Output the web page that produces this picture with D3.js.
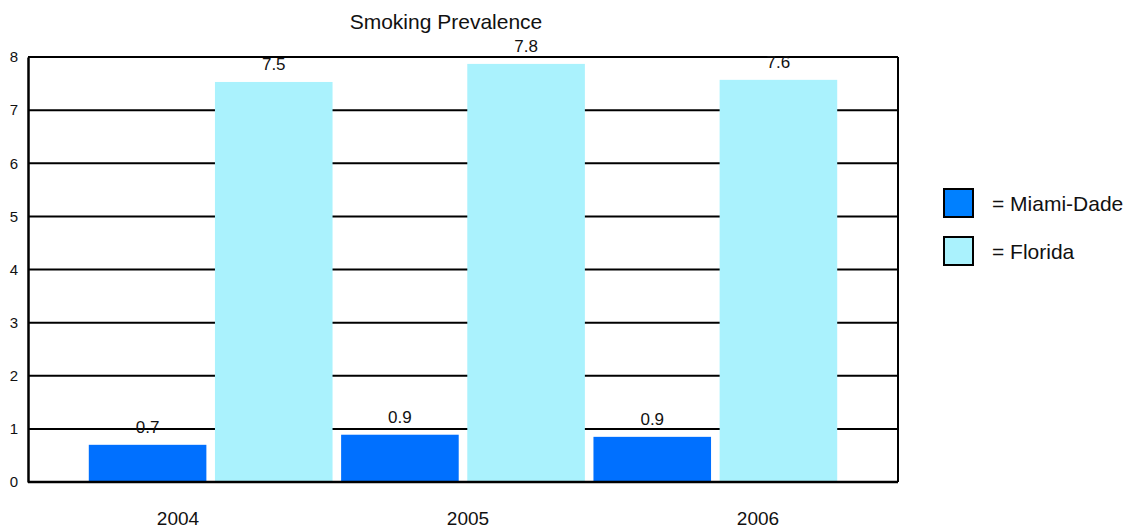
<!DOCTYPE html>
<html><head><meta charset="utf-8">
<script src="https://cdn.jsdelivr.net/npm/d3@7"></script>
<style>body{margin:0;background:#fff;} text{font-family:"Liberation Sans",Arial,sans-serif;fill:#111;}</style>
</head><body>
<svg id="c" width="1129" height="531"></svg>
<script>
const years = ["2004","2005","2006"];
const seriesNames = ["Miami-Dade","Florida"];
const miamiValues = [0.70, 0.89, 0.85];
const floridaValues = [7.53, 7.87, 7.57];
const miamiLabels = ["0.7","0.9","0.9"];
const floridaLabels = ["7.5","7.8","7.6"];
const yTicks = [0,1,2,3,4,5,6,7,8];
const colors = ["#0070ff","#aaf2fd"];
const legendColors = ["#0080ff","#aaf2fd"];

const svg = d3.select("#c");
const L = 28, R = 898, T = 57, B = 482;
const y = d3.scaleLinear().domain([0,8]).range([B,T]);
const xYear = d3.scaleBand().domain(years).range([L,R]);
const barKeys = [];
years.forEach(yr => seriesNames.forEach(s => barKeys.push(yr+"|"+s)));
const xBar = d3.scaleBand().domain(barKeys).range([84.5,841.5]).paddingInner(0.068).paddingOuter(0.034);

// gridlines
svg.append("g").selectAll("line").data(yTicks.filter(d=>d>0&&d<8)).join("line")
  .attr("x1",L).attr("x2",R).attr("y1",d=>y(d)).attr("y2",d=>y(d))
  .attr("stroke","#000").attr("stroke-width",2);

// bars
const rows = [];
years.forEach((yr,i)=>{
  rows.push({key:yr+"|Miami-Dade",v:miamiValues[i],lab:miamiLabels[i],c:colors[0]});
  rows.push({key:yr+"|Florida",v:floridaValues[i],lab:floridaLabels[i],c:colors[1]});
});
svg.append("g").selectAll("rect").data(rows).join("rect")
  .attr("x",d=>xBar(d.key)).attr("width",xBar.bandwidth())
  .attr("y",d=>y(d.v)).attr("height",d=>B-y(d.v)).attr("fill",d=>d.c);

// frame
svg.append("line").attr("x1",L).attr("x2",R).attr("y1",T).attr("y2",T).attr("stroke","#000").attr("stroke-width",2);
svg.append("line").attr("x1",R).attr("x2",R).attr("y1",T).attr("y2",B).attr("stroke","#000").attr("stroke-width",2);

// y axis
const yAxis = d3.axisLeft(y).tickValues(yTicks).tickSize(0).tickPadding(10).tickFormat(d3.format("d"));
const ga = svg.append("g").attr("transform",`translate(${L},0)`).call(yAxis);
ga.select(".domain").attr("stroke","#000").attr("stroke-width",2.5);
ga.selectAll("text").attr("font-size",15).attr("font-family","Liberation Sans, Arial, sans-serif").attr("fill","#111");

// x axis
const xAxis = d3.axisBottom(xYear).tickSize(0).tickPadding(30);
const gx = svg.append("g").attr("transform",`translate(5,${B})`).call(xAxis);
gx.select(".domain").remove();
gx.selectAll("text").attr("font-size",19).attr("font-family","Liberation Sans, Arial, sans-serif").attr("fill","#111");
svg.append("line").attr("x1",L).attr("x2",R).attr("y1",B).attr("y2",B).attr("stroke","#000").attr("stroke-width",2.5);

// value labels
svg.append("g").selectAll("text").data(rows).join("text")
  .attr("x",d=>xBar(d.key)+xBar.bandwidth()/2).attr("y",d=>y(d.v)-12)
  .attr("text-anchor","middle").attr("font-size",17).text(d=>d.lab);

// title
svg.append("text").attr("x",446).attr("y",29).attr("text-anchor","middle").attr("font-size",21).text("Smoking Prevalence");

// legend
const lg = svg.append("g").selectAll("g").data(seriesNames).join("g")
  .attr("transform",(d,i)=>`translate(944,${189+i*48})`);
lg.append("rect").attr("width",29).attr("height",28).attr("fill",(d,i)=>legendColors[i]).attr("stroke","#000").attr("stroke-width",2);
lg.append("text").attr("x",48).attr("y",22).attr("font-size",21).text(d=>"= "+d);
</script>
</body></html>
